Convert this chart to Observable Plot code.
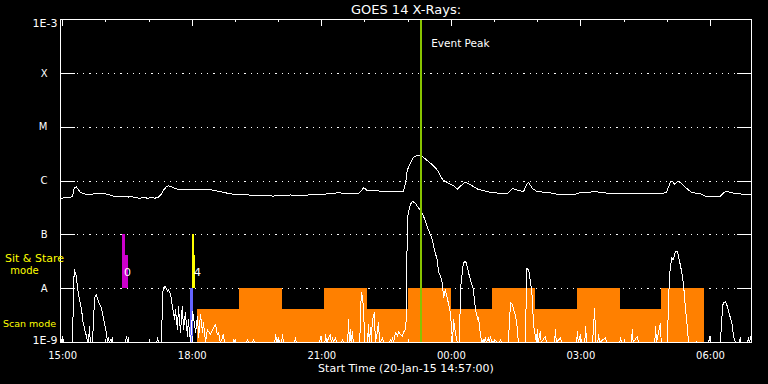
<!DOCTYPE html>
<html><head><meta charset="utf-8">
<script src="https://cdn.jsdelivr.net/npm/d3@7"></script>
<script src="https://cdn.jsdelivr.net/npm/@observablehq/plot@0.6"></script>
<style>
html,body{margin:0;padding:0;background:#000;}
#chart svg{display:block}
</style></head><body><div id="chart"></div>
<script>
// ---- data (time in decimal hours of 20-Jan-2015, >24 = 21-Jan; flux as log10 W/m^2) ----
const title = "GOES 14 X-Rays:";
const startLabel = "Start Time (20-Jan-15 14:57:00)";
const hourStart = 14.95, hourEnd = 30.95;
const tickHours = [15, 18, 21, 24, 27, 30];
const tickLabels = ["15:00", "18:00", "21:00", "00:00", "03:00", "06:00"];
const minorHours = d3.range(15, 31);
const classLevels = [-4, -5, -6, -7, -8];
const classLabels = ["X", "M", "C", "B", "A"];
const decades = [-3, -4, -5, -6, -7, -8, -9];
const eventPeak = 23.29;
const eventLabel = "Event Peak";

// GOES long channel (1-8 A)
const longChannel = [
 [14.95,-6.32],[15.09,-6.31],[15.11,-6.30],[15.18,-6.30],[15.23,-6.28],[15.25,-6.20],[15.27,-6.13],[15.32,-6.11],
 [15.37,-6.17],[15.41,-6.21],[15.48,-6.23],[15.58,-6.26],[15.69,-6.25],[15.74,-6.23],[15.95,-6.23],[16.04,-6.25],
 [16.18,-6.28],[16.50,-6.28],[16.52,-6.30],[16.57,-6.28],[16.64,-6.30],[16.76,-6.32],[16.87,-6.31],[16.99,-6.32],
 [17.08,-6.30],[17.13,-6.32],[17.22,-6.30],[17.29,-6.24],[17.33,-6.17],[17.40,-6.11],[17.45,-6.09],[17.52,-6.10],
 [17.57,-6.13],[17.66,-6.15],[18.19,-6.15],[18.26,-6.15],[18.49,-6.17],[18.72,-6.21],[18.89,-6.24],[19.30,-6.26],
 [19.88,-6.28],[20.28,-6.26],[20.51,-6.27],[20.85,-6.25],[21.16,-6.24],[21.36,-6.22],[21.83,-6.24],[21.90,-6.20],
 [21.97,-6.12],[22.04,-6.17],[22.20,-6.17],[22.43,-6.20],[22.89,-6.20],[22.94,-6.04],[22.98,-5.80],[23.05,-5.67],
 [23.12,-5.56],[23.22,-5.52],[23.29,-5.52],[23.35,-5.56],[23.52,-5.67],[23.68,-5.80],[23.80,-5.98],[23.91,-6.03],
 [24.05,-6.09],[24.14,-6.15],[24.26,-6.06],[24.33,-6.02],[24.44,-6.07],[24.61,-6.15],[24.84,-6.20],[25.21,-6.24],
 [25.32,-6.22],[25.42,-6.14],[25.53,-6.17],[25.67,-6.20],[25.76,-6.04],[25.79,-6.03],[25.88,-6.14],[25.99,-6.20],
 [26.23,-6.21],[26.53,-6.26],[26.83,-6.26],[26.99,-6.21],[27.11,-6.22],[27.27,-6.20],[27.34,-6.19],[27.45,-6.22],
 [27.87,-6.23],[27.92,-6.24],[28.77,-6.23],[28.98,-6.22],[29.07,-6.02],[29.12,-6.01],[29.17,-6.06],[29.24,-6.01],
 [29.31,-6.03],[29.38,-6.09],[29.47,-6.15],[29.54,-6.20],[29.66,-6.23],[29.77,-6.24],[29.88,-6.28],[30.23,-6.28],
 [30.32,-6.21],[30.37,-6.19],[30.49,-6.22],[30.69,-6.24],[30.81,-6.26],[30.95,-6.26]
];

// GOES short channel (0.5-4 A)
const shortChannel = [
 [14.95,-9],[14.97,-8.98],[15.00,-8.89],[15.02,-9],[15.23,-9],[15.25,-8.0],[15.27,-7.65],[15.32,-7.77],[15.34,-7.96],
 [15.39,-8.20],[15.44,-8.39],[15.46,-8.57],[15.51,-8.76],[15.55,-8.88],[15.58,-9],[15.60,-9],[15.62,-8.70],[15.64,-9],
 [15.69,-9],[15.74,-8.17],[15.78,-8.11],[15.83,-8.24],[15.90,-8.36],[15.95,-8.57],[16.01,-8.81],[16.04,-9],[16.06,-8.91],
 [16.08,-9],[16.11,-8.94],[16.13,-9],[16.15,-8.91],[16.17,-9],[16.45,-9],[16.48,-8.88],[16.50,-9],[16.52,-8.91],[16.54,-9],
 [17.18,-9],[17.20,-8.91],[17.22,-9],[17.29,-9],[17.31,-8.20],[17.33,-7.98],[17.38,-7.96],[17.43,-8.05],[17.45,-8.02],
 [17.50,-8.11],[17.54,-8.33],[17.59,-8.57],[17.61,-8.39],[17.66,-8.76],[17.68,-8.33],[17.73,-8.81],[17.77,-8.33],
 [17.80,-8.76],[17.84,-8.45],[17.89,-8.88],[17.91,-8.57],[17.96,-9],[18.01,-8.42],[18.03,-8.54],[18.08,-8.81],
 [18.12,-8.51],[18.15,-8.91],[18.19,-8.48],[18.24,-8.81],[18.26,-8.63],[18.31,-9],[18.35,-8.76],[18.42,-8.85],
 [18.47,-8.76],[18.54,-8.67],[18.58,-8.85],[18.61,-8.81],[18.65,-9],[18.70,-8.91],[18.72,-8.85],[18.75,-9],
 [18.94,-9],[18.96,-8.94],[18.98,-9],[19.00,-8.96],[19.02,-9],[19.26,-9],[19.28,-8.94],[19.30,-9],[19.40,-9],
 [19.42,-8.94],[19.44,-9],[19.91,-9],[19.93,-8.85],[19.96,-9],[20.00,-8.91],[20.02,-9],[20.07,-9],[20.09,-8.85],
 [20.11,-9],[20.37,-9],[20.39,-8.91],[20.41,-9],[20.95,-9],[20.97,-8.89],[20.99,-9],[21.07,-9],[21.09,-8.85],
 [21.11,-9],[21.20,-8.85],[21.22,-9],[21.25,-8.91],[21.27,-9],[21.32,-8.91],[21.34,-9],[21.46,-9],[21.48,-8.94],
 [21.50,-9],[21.60,-9],[21.62,-8.57],[21.64,-9],[21.66,-8.76],[21.68,-9],[21.71,-8.79],[21.73,-9],[21.88,-9],
 [21.90,-8.33],[21.92,-8.08],[21.94,-8.14],[21.97,-8.39],[21.99,-8.98],[22.01,-9],[22.06,-9],[22.08,-8.67],
 [22.10,-9],[22.13,-8.72],[22.15,-9],[22.17,-8.57],[22.20,-8.51],[22.22,-8.44],[22.24,-9],[22.27,-8.88],
 [22.29,-8.79],[22.31,-8.63],[22.34,-8.98],[22.36,-9],[22.41,-8.91],[22.43,-9],[22.57,-9],[22.59,-8.94],
 [22.61,-9],[22.64,-8.91],[22.66,-9],[22.71,-8.81],[22.75,-8.88],[22.78,-8.79],[22.82,-8.85],[22.87,-8.88],
 [22.89,-8.81],[22.94,-8.76],[22.96,-8.5],[22.98,-6.72],[23.01,-6.57],[23.05,-6.44],[23.10,-6.38],[23.17,-6.41],
 [23.22,-6.48],[23.26,-6.52],[23.33,-6.60],[23.40,-6.75],[23.47,-6.91],[23.56,-7.09],[23.61,-7.28],[23.68,-7.49],
 [23.70,-7.68],[23.75,-7.77],[23.79,-7.89],[23.82,-8.17],[23.86,-8.02],[23.91,-8.20],[23.93,-8.26],[23.98,-8.45],
 [24.00,-8.70],[24.03,-8.98],[24.05,-8.57],[24.07,-8.70],[24.10,-8.85],[24.14,-9],[24.19,-9],[24.21,-8.02],
 [24.26,-7.65],[24.28,-7.52],[24.33,-7.49],[24.37,-7.59],[24.40,-7.71],[24.44,-7.83],[24.49,-7.96],[24.51,-8.02],
 [24.56,-8.39],[24.61,-8.57],[24.63,-8.54],[24.65,-8.70],[24.70,-9],[24.74,-8.94],[24.76,-9],[24.79,-8.91],
 [24.81,-9],[24.86,-8.91],[24.88,-9],[24.91,-8.88],[24.93,-9],[25.02,-8.96],[25.05,-9],[25.12,-9],[25.14,-8.94],
 [25.16,-9],[25.32,-9],[25.37,-8.26],[25.42,-8.30],[25.44,-8.39],[25.49,-8.51],[25.53,-8.76],[25.55,-9],[25.72,-9],
 [25.74,-7.62],[25.79,-7.65],[25.81,-7.77],[25.86,-8.02],[25.88,-8.26],[25.90,-8.64],[25.92,-8.76],[25.97,-9],
 [25.99,-8.76],[26.01,-9],[26.06,-8.79],[26.08,-9],[26.18,-8.88],[26.20,-9],[26.39,-9],[26.41,-8.76],[26.43,-9],
 [26.53,-8.91],[26.55,-9],[26.90,-9],[26.92,-8.79],[26.94,-9],[26.99,-8.85],[27.01,-9],[27.09,-9],[27.11,-8.70],
 [27.13,-9],[27.27,-9],[27.32,-8.36],[27.34,-9],[27.39,-9],[27.41,-8.85],[27.43,-9],[27.57,-8.91],[27.59,-9],
 [27.90,-9],[27.92,-8.91],[27.94,-9],[28.17,-9],[28.19,-8.76],[28.21,-9],[28.31,-8.88],[28.33,-9],[28.71,-9],
 [28.73,-8.70],[28.75,-9],[28.84,-8.64],[28.86,-9],[29.00,-9],[29.05,-7.77],[29.10,-7.43],[29.14,-7.46],
 [29.19,-7.31],[29.24,-7.31],[29.26,-7.40],[29.31,-7.59],[29.35,-7.77],[29.38,-7.96],[29.42,-8.36],[29.47,-8.76],
 [29.49,-9],[29.66,-9],[29.68,-8.98],[29.70,-9],[29.96,-9],[29.98,-8.88],[30.00,-9],[30.23,-9],[30.28,-8.33],
 [30.30,-8.26],[30.35,-8.24],[30.39,-8.33],[30.42,-8.42],[30.46,-8.54],[30.51,-8.70],[30.53,-8.88],[30.58,-9],
 [30.67,-9],[30.69,-8.91],[30.71,-9],[30.86,-9],[30.88,-8.91],[30.90,-9],[30.95,-8.85]
];

// IRIS scan-mode blocks
const scanStart = [18.12, 19.09, 20.09, 21.06, 22.06, 23.01, 24.00, 24.95, 25.95, 26.92, 27.92, 28.87];
const scanEnd   = [19.09, 20.09, 21.06, 22.06, 23.01, 24.00, 24.95, 25.95, 26.92, 27.92, 28.87, 29.86];
const scanTop   = [-8.39, -8, -8.39, -8, -8.39, -8, -8.39, -8, -8.39, -8, -8.39, -8];

// IRIS sit & stare observations
const stareStart = [16.39, 16.45, 18.01, 18.05];
const stareEnd   = [16.45, 16.52, 18.05, 18.08];
const stareTop   = [-7, -7.39, -7, -7.39];
const stareId    = ["0", "0", "4", "4"];
const stareLabelTime = [16.50, 18.12];
const stareLabelId = ["0", "4"];

// scan-mode marker
const markerStart = [17.96];
const markerEnd = [18.03];

// ---- chart ----
const T = h => new Date(Date.UTC(2015, 0, 20) + Math.round(h * 3600000));
const stareColor = {"0": "#cc00cc", "4": "#ffff00"};
const W = 768, H = 384, ML = 60, MR = 17, MT = 19, MB = 42;
const FW = W - ML - MR, FH = H - MT - MB;
const font = "DejaVu Sans";

const scan = scanStart.map((s, i) => ({s, e: scanEnd[i], top: scanTop[i]}));
const stare = stareStart.map((s, i) => ({s, e: stareEnd[i], top: stareTop[i], id: stareId[i]}));
const marker = markerStart.map((s, i) => ({s, e: markerEnd[i]}));

const txt = {fill: "#fff", lineAnchor: "middle"};

const chart = Plot.plot({
  width: W, height: H,
  marginLeft: ML, marginRight: MR, marginTop: MT, marginBottom: MB,
  style: {background: "#000", color: "#fff", fontFamily: font, fontSize: "10px"},
  x: {type: "utc", domain: [T(hourStart), T(hourEnd)], axis: null},
  y: {domain: [-9, -3], axis: null},
  marks: [
    Plot.tickY(classLevels, {y: d => d, stroke: "#fff", strokeDasharray: "1.2,5", insetLeft: 17, insetRight: 16, shapeRendering: "crispEdges"}),
    Plot.rect(scan, {x1: d => T(d.s), x2: d => T(d.e), y1: -9, y2: d => d.top, fill: "#ff8000", shapeRendering: "crispEdges"}),
    Plot.rect(stare, {x1: d => T(d.s), x2: d => T(d.e), y1: -8, y2: d => d.top, fill: d => stareColor[d.id], shapeRendering: "crispEdges"}),
    Plot.rect(marker, {x1: d => T(d.s), x2: d => T(d.e), y1: -9, y2: -8, fill: "#6464ff", shapeRendering: "crispEdges"}),
    Plot.line(shortChannel, {x: d => T(d[0]), y: d => d[1], stroke: "#fff", strokeWidth: 1, clip: true, shapeRendering: "crispEdges"}),
    Plot.line(longChannel, {x: d => T(d[0]), y: d => d[1], stroke: "#fff", strokeWidth: 1, clip: true, shapeRendering: "crispEdges"}),
    Plot.ruleX([eventPeak], {x: T, stroke: "#88c400", strokeWidth: 2, shapeRendering: "crispEdges"}),
    Plot.frame({stroke: "#fff", shapeRendering: "crispEdges"}),
    Plot.tickY(decades, {y: d => d, stroke: "#fff", insetRight: FW - 15, shapeRendering: "crispEdges"}),
    Plot.tickY(decades, {y: d => d, stroke: "#fff", insetLeft: FW - 14, shapeRendering: "crispEdges"}),
    Plot.tickX(minorHours, {x: T, stroke: "#fff", insetBottom: FH - 3, shapeRendering: "crispEdges"}),
    Plot.tickX(tickHours, {x: T, stroke: "#fff", insetBottom: FH - 6.5, shapeRendering: "crispEdges"}),
    Plot.tickX(minorHours, {x: T, stroke: "#fff", insetTop: FH - 3, shapeRendering: "crispEdges"}),
    Plot.tickX(tickHours, {x: T, stroke: "#fff", insetTop: FH - 6.5, shapeRendering: "crispEdges"}),
    Plot.text(tickHours, {...txt, x: T, text: (d, i) => tickLabels[i], frameAnchor: "bottom", dy: 13, fontSize: 10}),
    Plot.text([startLabel], {...txt, text: d => d, frameAnchor: "bottom", dy: 26, fontSize: 11}),
    Plot.text([title], {...txt, text: d => d, frameAnchor: "top", dy: -10, fontSize: 13}),
    Plot.text(classLevels, {...txt, y: d => d, text: (d, i) => classLabels[i], frameAnchor: "left", dx: -13, textAnchor: "end", fontSize: 10}),
    Plot.text(["1E-3"], {...txt, y: -3, text: d => d, frameAnchor: "left", dx: -3, dy: 4, textAnchor: "end", fontSize: 11}),
    Plot.text(["1E-9"], {...txt, y: -9, text: d => d, frameAnchor: "left", dx: -3, dy: -2, textAnchor: "end", fontSize: 11}),
    Plot.text(["Sit & Stare"], {...txt, fill: "#ffff00", y: -7.43, text: d => d, frameAnchor: "left", dx: -26, textAnchor: "middle", fontSize: 11}),
    Plot.text(["mode"], {...txt, fill: "#ffff00", y: -7.67, text: d => d, frameAnchor: "left", dx: -36, textAnchor: "middle", fontSize: 10}),
    Plot.text(["Scan mode"], {...txt, fill: "#ffff00", y: -8.65, text: d => d, frameAnchor: "left", dx: -31, textAnchor: "middle", fontSize: 9.5}),
    Plot.text(stareLabelTime, {...txt, x: T, y: -7.69, text: (d, i) => stareLabelId[i], fontSize: 11}),
    Plot.text([eventLabel], {...txt, x: T(eventPeak), text: d => d, frameAnchor: "top", dy: 24, dx: 10.5, textAnchor: "start", fontSize: 10.5})
  ]
});
document.getElementById("chart").appendChild(chart);
</script></body></html>
